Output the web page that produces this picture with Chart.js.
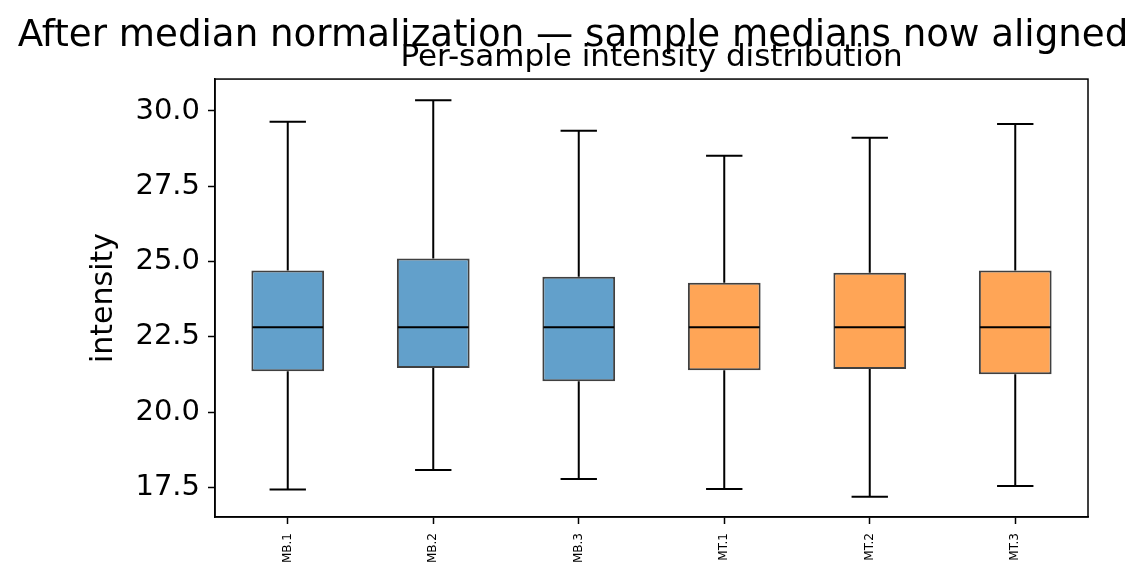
<!DOCTYPE html>
<html>
<head>
<meta charset="utf-8">
<script src="https://cdn.jsdelivr.net/npm/chart.js@4.4.1/dist/chart.umd.min.js"></script>
<style>
  html, body { margin: 0; padding: 0; background: #fff; }
  #wrap { width: 1146px; height: 582px; }
</style>
</head>
<body>
<div id="wrap"><canvas id="boxChart"></canvas></div>
<script>
'use strict';

// ── Data ───────────────────────────────────────
const samples     = ['MB.1', 'MB.2', 'MB.3', 'MT.1', 'MT.2', 'MT.3'];
const whiskerLow  = [17.43, 18.08, 17.78, 17.45, 17.19, 17.55];
const quart1      = [21.36, 21.47, 21.03, 21.39, 21.43, 21.26];
const medians     = [22.82, 22.82, 22.82, 22.82, 22.82, 22.82];
const quart3      = [24.70, 25.10, 24.50, 24.30, 24.63, 24.70];
const whiskerHigh = [29.64, 30.36, 29.34, 28.51, 29.11, 29.57];
const yTicks      = [17.5, 20.0, 22.5, 25.0, 27.5, 30.0];

const BLUE   = 'rgb(98,160,203)';
const ORANGE = 'rgb(255,165,86)';
const boxColors = samples.map(s => s.startsWith('MB') ? BLUE : ORANGE);

Chart.defaults.font.family = "'DejaVu Sans', sans-serif";
Chart.defaults.color = '#000';

// whiskers behind the boxes, medians and frame on top
const boxPlot = {
  id: 'boxPlot',
  beforeDatasetsDraw(chart) {
    const { ctx, scales: { x, y } } = chart;
    const bars = chart.getDatasetMeta(0).data;
    ctx.save();
    ctx.strokeStyle = '#000';
    ctx.lineWidth = 2;
    samples.forEach((s, i) => {
      const cx = x.getPixelForValue(i);
      const half = bars[i].width / 4;
      ctx.beginPath();
      ctx.moveTo(cx, y.getPixelForValue(quart3[i]));
      ctx.lineTo(cx, y.getPixelForValue(whiskerHigh[i]));
      ctx.moveTo(cx, y.getPixelForValue(quart1[i]));
      ctx.lineTo(cx, y.getPixelForValue(whiskerLow[i]));
      ctx.moveTo(cx - half, y.getPixelForValue(whiskerHigh[i]));
      ctx.lineTo(cx + half, y.getPixelForValue(whiskerHigh[i]));
      ctx.moveTo(cx - half, y.getPixelForValue(whiskerLow[i]));
      ctx.lineTo(cx + half, y.getPixelForValue(whiskerLow[i]));
      ctx.stroke();
    });
    ctx.restore();
  },
  afterDatasetsDraw(chart) {
    const { ctx, chartArea: a, scales: { x, y } } = chart;
    const bars = chart.getDatasetMeta(0).data;
    ctx.save();
    ctx.strokeStyle = '#000';
    ctx.lineWidth = 2;
    samples.forEach((s, i) => {
      const cx = x.getPixelForValue(i);
      const half = bars[i].width / 2 - 1;
      const my = y.getPixelForValue(medians[i]);
      ctx.beginPath();
      ctx.moveTo(cx - half, my);
      ctx.lineTo(cx + half, my);
      ctx.stroke();
    });
    ctx.lineWidth = 1.5;
    ctx.strokeRect(a.left, a.top, a.right - a.left, a.bottom - a.top);
    ctx.restore();
  }
};

new Chart(document.getElementById('boxChart').getContext('2d'), {
  type: 'bar',
  data: {
    labels: samples,
    datasets: [{
      label: 'IQR',
      data: samples.map((s, i) => [quart1[i], quart3[i]]),
      backgroundColor: boxColors,
      borderColor: 'rgba(0,0,0,0.75)',
      borderWidth: 2,
      borderSkipped: false,
      barPercentage: 0.5,
      categoryPercentage: 1.0
    }]
  },
  options: {
    responsive: true, maintainAspectRatio: false,
    devicePixelRatio: 1,
    animation: false,
    layout: { padding: 0 },
    plugins: {
      legend: { display: false },
      tooltip: { enabled: false },
      title: {
        display: true,
        text: 'After median normalization — sample medians now aligned',
        font: { size: 37.2, weight: 'normal', lineHeight: 0.8 },
        color: '#000',
        padding: { top: 21, bottom: 0 }
      },
      subtitle: {
        display: true,
        fullSize: false,
        text: 'Per-sample intensity distribution',
        font: { size: 31, weight: 'normal', lineHeight: 0.8 },
        color: '#000',
        padding: { top: -5.5, bottom: 9 }
      }
    },
    scales: {
      x: {
        afterFit: s => { s.height = 65; },
        grid: { display: true, drawOnChartArea: false, offset: false, tickLength: 7, tickWidth: 1.5, tickColor: '#000' },
        border: { display: true, color: '#000', width: 1.5 },
        ticks: { font: { size: 12 }, minRotation: 90, maxRotation: 90, padding: 9, color: '#000' }
      },
      y: {
        min: 16.52, max: 31.06,
        afterFit: s => { s.width = 215; },
        afterBuildTicks: s => { s.ticks = yTicks.map(v => ({ value: v })); },
        title: {
          display: true, text: 'intensity',
          font: { size: 30, weight: 'normal', lineHeight: 1.2 },
          color: '#000',
          padding: { top: 86, bottom: 0 }
        },
        grid: { display: true, drawOnChartArea: false, tickLength: 7, tickWidth: 1.5, tickColor: '#000' },
        border: { display: true, color: '#000', width: 1.5 },
        ticks: { font: { size: 29 }, padding: 8, color: '#000', callback: v => v.toFixed(1) }
      },
      // empty right-hand strip so the suptitle centres on the whole figure
      yPad: {
        position: 'right',
        display: true,
        afterFit: s => { s.width = 58; },
        grid: { display: false },
        border: { display: false },
        ticks: { display: false }
      }
    }
  },
  plugins: [boxPlot]
});
</script>
</body>
</html>
